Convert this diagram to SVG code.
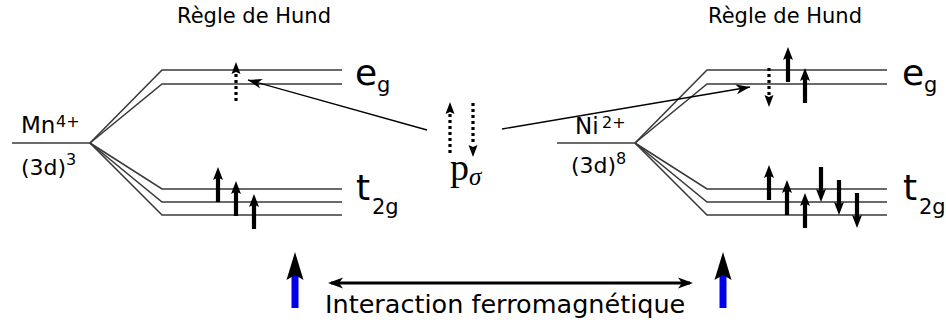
<svg xmlns="http://www.w3.org/2000/svg" xmlns:xlink="http://www.w3.org/1999/xlink" width="946" height="326" viewBox="0 0 946 326">
<style>
.lvl{fill:none;stroke:#3a3a3a;stroke-width:1.6}
.sans{font-family:"DejaVu Sans","Liberation Sans",sans-serif;fill:#000}
.serif{font-family:"Liberation Serif","DejaVu Serif",serif;fill:#000}
.dot{stroke:#000;stroke-width:3.2;stroke-dasharray:3 3;fill:none}
.conn{stroke:#000;stroke-width:1.3;fill:none}
</style>
<defs>
<path id="spinUp" d="M0,0 L5,13 L2.1,11.5 L2.1,35 L-2.1,35 L-2.1,11.5 L-5,13 Z" fill="#000"/>
<path id="dotHead" d="M0,0 L4.5,12 L0,10 L-4.5,12 Z" fill="#000"/>
<marker id="thinHead" viewBox="-16 -7 17 14" markerWidth="17" markerHeight="14" refX="0" refY="0" orient="auto" markerUnits="userSpaceOnUse">
<path d="M0,0 L-14,-5 L-10,0 L-14,5 Z" fill="#000"/>
</marker>
<marker id="boldHead" viewBox="-17 -7 18 14" markerWidth="18" markerHeight="14" refX="-3" refY="0" orient="auto-start-reverse" markerUnits="userSpaceOnUse">
<path d="M0,0 L-15,-5.5 L-11,0 L-15,5.5 Z" fill="#000"/>
</marker>
</defs>

<g id="mn">
<path class="lvl" d="M12,143 L90,143"/>
<path class="lvl" d="M90,143 L162,70 L342,70"/>
<path class="lvl" d="M90,143 L162,84 L342,84"/>
<path class="lvl" d="M90,143 L162,189 L342,189"/>
<path class="lvl" d="M90,143 L162,202 L342,202"/>
<path class="lvl" d="M90,143 L162,215 L342,215"/>
<text class="sans" x="21" y="133" font-size="23">Mn</text>
<text class="sans" x="56" y="127" font-size="16">4+</text>
<text class="sans" x="21" y="175" font-size="22">(3d)</text>
<text class="sans" x="66" y="165" font-size="16">3</text>
<text class="sans" x="177" y="23" font-size="21">Règle de Hund</text>
<text class="sans" x="355" y="85" font-size="36">e</text>
<text class="sans" x="377" y="92" font-size="21">g</text>
<text class="sans" x="356" y="200" font-size="36">t</text>
<text class="sans" x="372" y="214" font-size="21">2g</text>
<use xlink:href="#dotHead" x="236" y="62"/>
<path class="dot" d="M236,74 L236,101"/>
<use xlink:href="#spinUp" x="218" y="167"/>
<use xlink:href="#spinUp" x="236" y="181"/>
<use xlink:href="#spinUp" x="254" y="194"/>
</g>

<g id="ni">
<path class="lvl" d="M557,143 L635,143"/>
<path class="lvl" d="M635,143 L707,70 L887,70"/>
<path class="lvl" d="M635,143 L707,84 L887,84"/>
<path class="lvl" d="M635,143 L707,189 L887,189"/>
<path class="lvl" d="M635,143 L707,202 L887,202"/>
<path class="lvl" d="M635,143 L707,215 L887,215"/>
<text class="sans" x="575" y="134" font-size="23">Ni</text>
<text class="sans" x="602" y="128" font-size="16">2+</text>
<text class="sans" x="571" y="173" font-size="22">(3d)</text>
<text class="sans" x="616" y="164" font-size="16">8</text>
<text class="sans" x="708" y="23" font-size="21">Règle de Hund</text>
<text class="sans" x="902" y="85" font-size="36">e</text>
<text class="sans" x="924" y="92" font-size="21">g</text>
<text class="sans" x="903" y="200" font-size="36">t</text>
<text class="sans" x="919" y="214" font-size="21">2g</text>
<path class="dot" d="M769,68 L769,95"/>
<use xlink:href="#dotHead" transform="translate(769,107) rotate(180)"/>
<use xlink:href="#spinUp" x="788" y="47"/>
<use xlink:href="#spinUp" x="805" y="68"/>
<use xlink:href="#spinUp" x="769" y="165"/>
<use xlink:href="#spinUp" x="787" y="180"/>
<use xlink:href="#spinUp" x="805" y="193"/>
<use xlink:href="#spinUp" transform="translate(821,202) rotate(180)"/>
<use xlink:href="#spinUp" transform="translate(839,215) rotate(180)"/>
<use xlink:href="#spinUp" transform="translate(857,228) rotate(180)"/>
</g>

<g id="p-sigma">
<use xlink:href="#dotHead" x="450" y="102"/>
<path class="dot" d="M450,114 L450,154"/>
<path class="dot" d="M473,103 L473,145"/>
<use xlink:href="#dotHead" transform="translate(473,157) rotate(180)"/>
<text class="serif" x="450" y="180" font-size="38">p</text>
<text class="serif" x="469" y="185" font-size="25" font-style="italic">σ</text>
</g>

<g id="spin-mn">
<rect x="291.5" y="274" width="7" height="34" fill="#0000ee"/>
<path d="M295,252 L303.5,280 L295,275 L286.5,280 Z" fill="#000"/>
</g>
<g id="spin-ni">
<rect x="719.5" y="274" width="7" height="34" fill="#0000ee"/>
<path d="M723,252 L731.5,280 L723,275 L714.5,280 Z" fill="#000"/>
</g>

<g id="connectors">
<path class="conn" d="M427,130 L248,80" marker-end="url(#thinHead)"/>
<path class="conn" d="M502,129 L750,87" marker-end="url(#thinHead)"/>
<path d="M331,283 L690,283" stroke="#000" stroke-width="3" fill="none" marker-start="url(#boldHead)" marker-end="url(#boldHead)"/>
</g>
<text class="sans" x="325" y="313" font-size="25.5">Interaction ferromagnétique</text>
</svg>
